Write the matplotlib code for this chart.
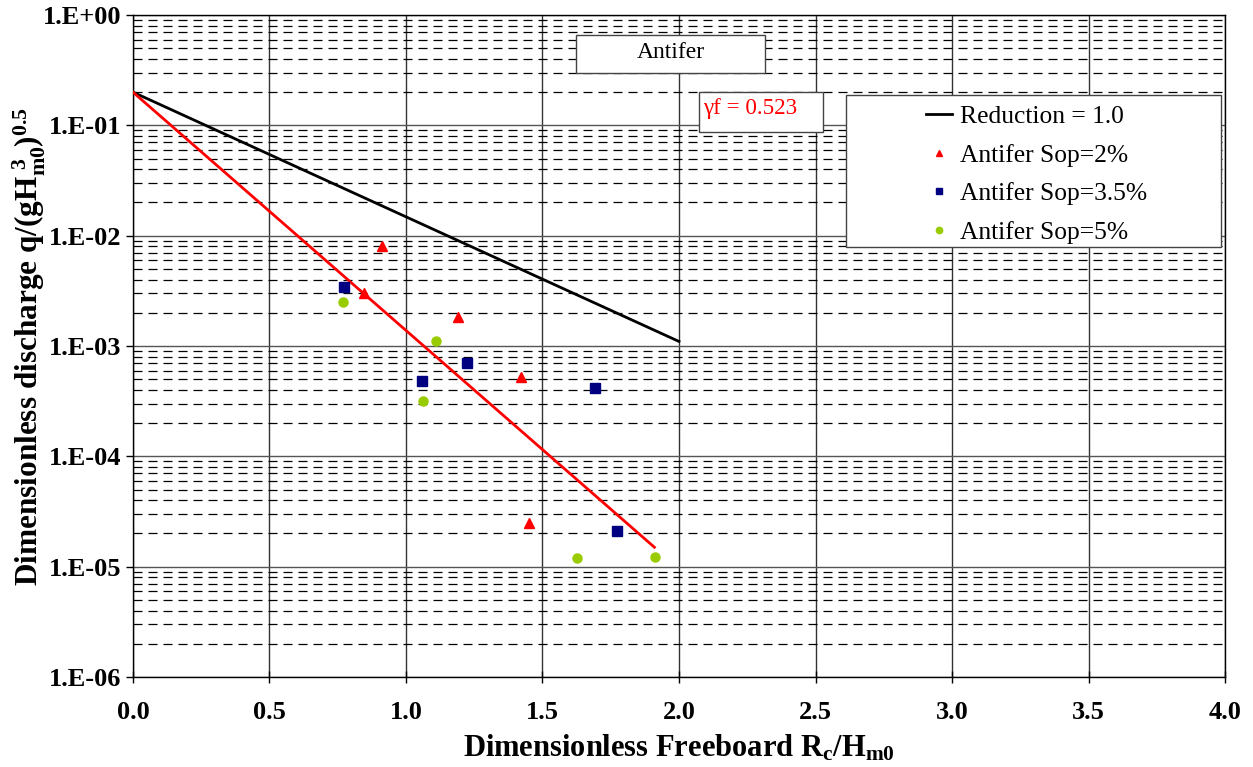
import matplotlib
matplotlib.use("Agg")
import matplotlib.pyplot as plt
from matplotlib.ticker import FixedLocator, FixedFormatter, LogLocator, NullFormatter

plt.rcParams['font.family'] = ['Liberation Serif', 'DejaVu Serif']
plt.rcParams['mathtext.fontset'] = 'custom'
plt.rcParams['mathtext.rm'] = 'Liberation Serif:bold'
plt.rcParams['mathtext.it'] = 'Liberation Serif:bold'
plt.rcParams['mathtext.bf'] = 'Liberation Serif:bold'
plt.rcParams['lines.scale_dashes'] = False

# reduction line (gamma = 1.0) and fitted line (gamma_f = 0.523), end points
ref_x = [0.0, 2.0]
ref_y = [0.2, 1.1e-3]
fit_x = [0.0, 1.91]
fit_y = [0.2, 1.5e-5]

# Antifer Sop = 2 %
s2_x = [0.912, 0.846, 1.19, 1.421, 1.45]
s2_y = [8.0e-3, 3.0e-3, 1.83e-3, 5.2e-4, 2.5e-5]
# Antifer Sop = 3.5 %
s35_x = [0.773, 1.059, 1.223, 1.692, 1.773]
s35_y = [3.4e-3, 4.8e-4, 7.0e-4, 4.15e-4, 2.1e-5]
# Antifer Sop = 5 %
s5_x = [0.769, 1.11, 1.062, 1.626, 1.912]
s5_y = [2.5e-3, 1.1e-3, 3.2e-4, 1.19e-5, 1.22e-5]

x_ticks = [0.0, 0.5, 1.0, 1.5, 2.0, 2.5, 3.0, 3.5, 4.0]
y_ticks = [1e-6, 1e-5, 1e-4, 1e-3, 1e-2, 1e-1, 1e0]
y_labels = ['1.E-06', '1.E-05', '1.E-04', '1.E-03', '1.E-02', '1.E-01', '1.E+00']

fig = plt.figure(figsize=(12.53, 7.67), dpi=100)
ax = fig.add_axes([0.1061, 0.1173, 0.8716, 0.8631])
ax.set_yscale('log')
ax.set_xlim(0, 4)
ax.set_ylim(1e-6, 1)

ax.yaxis.set_major_locator(FixedLocator(y_ticks))
ax.yaxis.set_major_formatter(FixedFormatter(y_labels))
ax.yaxis.set_minor_locator(LogLocator(base=10, subs=range(2, 10)))
ax.yaxis.set_minor_formatter(NullFormatter())
ax.set_xticks(x_ticks)
ax.set_xticklabels([f'{v:.1f}' for v in x_ticks])

ax.grid(True, which='major', axis='y', color='#555555', lw=1.0, ls='-')
ax.grid(True, which='minor', axis='y', color='black', lw=0.9, ls=(0, (6.5, 4.3)))
ax.grid(True, which='major', axis='x', color='#333333', lw=1.0, ls='-')
ax.set_axisbelow(True)
ax.tick_params(axis='y', which='minor', length=0)
ax.tick_params(axis='y', which='major', direction='out', length=5, width=1)
ax.tick_params(axis='x', which='major', direction='inout', length=9, width=1, pad=13)
for lab in ax.get_xticklabels() + ax.get_yticklabels():
    lab.set_fontsize(19)
    lab.set_fontweight('bold')
for sp in ax.spines.values():
    sp.set_color('black')
    sp.set_linewidth(1.0)

ax.plot(ref_x, ref_y, color='black', lw=2, label='Reduction = 1.0', zorder=3)
ax.plot(fit_x, fit_y, color='#FF0000', lw=2, zorder=3)
ax.plot(s2_x, s2_y, ls='none', marker='^', ms=7, color='#FF0000', label='Antifer Sop=2%', zorder=4)
ax.plot(s35_x, s35_y, ls='none', marker='s', ms=6.5, color='#000080', label='Antifer Sop=3.5%', zorder=4)
ax.plot(s5_x, s5_y, ls='none', marker='o', ms=6.5, color='#99CC00', label='Antifer Sop=5%', zorder=4)

ax.set_xlabel(r'Dimensionless Freeboard R$_\mathrm{c}$/H$_\mathrm{m0}$', fontsize=22, fontweight='bold', labelpad=6)
ax.set_ylabel(r'Dimensionless discharge q/(gH$_\mathrm{m0}^{\ 3})^{0.5}$', fontsize=22.5, fontweight='bold', labelpad=-4)

# title box
ax.add_patch(plt.Rectangle((0.4057, 0.9124), 0.1731, 0.0574, transform=ax.transAxes,
                           fc='white', ec='#444444', lw=1, zorder=5))
ax.text(0.4927, 0.943, 'Antifer', transform=ax.transAxes, ha='center', va='center', fontsize=17, zorder=6)

# gamma_f box
ax.add_patch(plt.Rectangle((0.5183, 0.8233), 0.1136, 0.0604, transform=ax.transAxes,
                           fc='white', ec='#444444', lw=1, zorder=5))
ax.text(0.522, 0.8595, 'γf = 0.523', transform=ax.transAxes, ha='left', va='center', fontsize=16.7,
        color='#FF0000', zorder=6)

# legend box
ax.add_patch(plt.Rectangle((0.6529, 0.6495), 0.3434, 0.2296, transform=ax.transAxes,
                           fc='white', ec='#444444', lw=1, zorder=5))
leg = ax.legend(loc='upper left', bbox_to_anchor=(0.7266, 0.864), fontsize=18.4, frameon=False,
                borderpad=0, borderaxespad=0, handlelength=1.0, handletextpad=0.3,
                labelspacing=0.61, markerscale=0.7)
leg.set_zorder(6)

fig.savefig('out.png', dpi=100)
